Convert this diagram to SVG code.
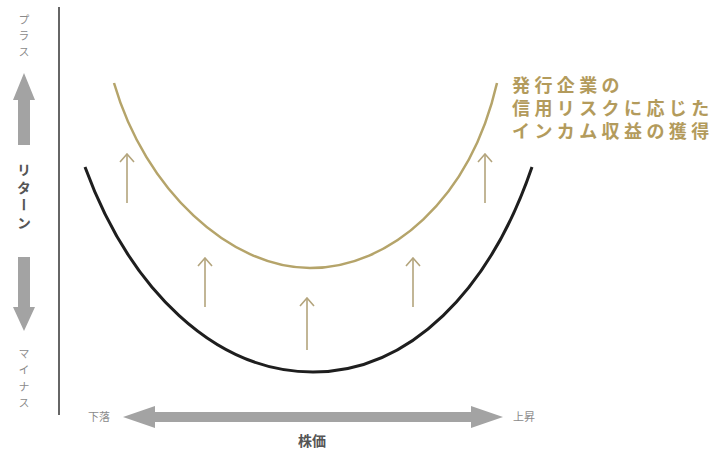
<svg xmlns="http://www.w3.org/2000/svg" width="720" height="450" viewBox="0 0 720 450">
<defs>
<style>
.jp{font-family:"Noto Sans CJK JP","Noto Sans",sans-serif}
.small{font-size:11px;fill:#8a8a8a}
.vt{writing-mode:vertical-rl;text-orientation:upright}
.axlbl{font-size:14px;font-weight:bold;fill:#555}
.gold{font-size:18px;font-weight:bold;fill:#b39b5c;letter-spacing:4.4px}
.up{stroke:#b3a47c;stroke-width:1.6;fill:none}
</style>
<marker id="ah" viewBox="0 0 10 16" refX="9" refY="8" markerWidth="10" markerHeight="16" markerUnits="userSpaceOnUse" orient="auto">
<path d="M1,1 L9,8 L1,15" fill="none" stroke="#b3a47c" stroke-width="1.6"/>
</marker>
</defs>
<rect width="720" height="450" fill="#fff"/>
<g id="y-axis">
<line x1="59" y1="7" x2="59" y2="415" stroke="#666" stroke-width="2"/>
<text class="jp small vt" x="24" y="14" style="letter-spacing:5px">プラス</text>
<polygon points="24,73 13,100 18,100 18,145 30,145 30,100 35,100" fill="#a3a3a3"/>
<text class="jp axlbl vt" x="24" y="163" style="letter-spacing:3.5px">リターン</text>
<polygon points="18,257 30,257 30,307 35,307 24,331 13,307 18,307" fill="#a3a3a3"/>
<text class="jp small vt" x="24" y="348" style="letter-spacing:5.5px">マイナス</text>
</g>
<g id="x-axis">
<polygon points="123,417 155,406 155,412 471,412 471,406 503,417 471,428 471,422 155,422 155,428" fill="#a3a3a3"/>
<text class="jp small" x="88" y="421">下落</text>
<text class="jp small" x="513" y="421">上昇</text>
<text class="jp axlbl" x="312" y="446" text-anchor="middle">株価</text>
</g>
<g id="curves">
<path id="gold-curve" d="M114,83 C145,190 230,268 310,268 C390,268 470,200 497,83" fill="none" stroke="#b5a46a" stroke-width="2.5"/>
<path id="black-curve" d="M85,167 C130,290 215,372 313,372 C410,372 490,290 532,167" fill="none" stroke="#1e1e1e" stroke-width="3"/>
</g>
<g id="connectors">
<line class="up" x1="127" y1="203" x2="127" y2="154" marker-end="url(#ah)"/>
<line class="up" x1="205" y1="307" x2="205" y2="258" marker-end="url(#ah)"/>
<line class="up" x1="307" y1="350" x2="307" y2="298" marker-end="url(#ah)"/>
<line class="up" x1="413" y1="307" x2="413" y2="258" marker-end="url(#ah)"/>
<line class="up" x1="485" y1="203" x2="485" y2="154" marker-end="url(#ah)"/>
</g>
<g id="label">
<text class="jp gold" x="512" y="92">発行企業の</text>
<text class="jp gold" x="512" y="115">信用リスクに応じた</text>
<text class="jp gold" x="512" y="138">インカム収益の獲得</text>
</g>
</svg>
